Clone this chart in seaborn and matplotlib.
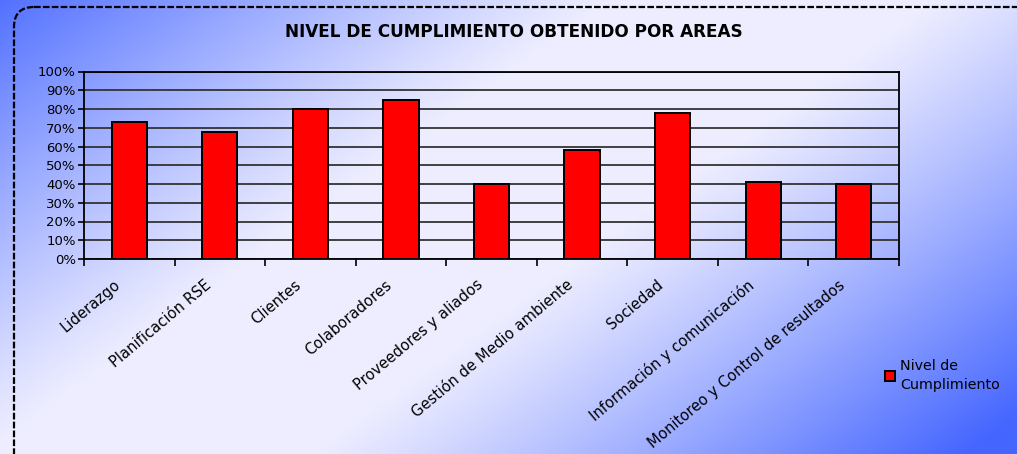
import numpy as np
import pandas as pd
import matplotlib
matplotlib.use("Agg")
import matplotlib.pyplot as plt
import matplotlib.transforms as mtransforms
import seaborn as sns
from matplotlib.patches import FancyBboxPatch
from matplotlib.ticker import PercentFormatter, FixedLocator

areas = ["Liderazgo", "Planificación RSE", "Clientes", "Colaboradores",
         "Proveedores y aliados", "Gestión de Medio ambiente", "Sociedad",
         "Información y comunicación", "Monitoreo y Control de resultados"]
cumplimiento = [73, 68, 80, 85, 40, 58, 78, 41, 40]
serie = "Nivel de\nCumplimiento"
titulo = "NIVEL DE CUMPLIMIENTO OBTENIDO POR AREAS"

df = pd.DataFrame({"Area": areas, "Valor": cumplimiento})

sns.set_style("white")
plt.rcParams['font.family'] = ['DejaVu Sans']
for k in ['text.color', 'axes.labelcolor', 'xtick.color', 'ytick.color']:
    plt.rcParams[k] = 'black'

FW, FH = 1017, 454
fig = plt.figure(figsize=(FW / 100, FH / 100), dpi=100)

# background gradient (pixel coordinates)
bg = fig.add_axes([0, 0, 1, 1], zorder=-10)
W, H = 500, 220
xx, yy = np.meshgrid(np.linspace(0, 1, W), np.linspace(0, 1, H))
u = 0.62 * xx + 0.38 * yy  # yy measured from top
d = np.clip((np.abs(u - 0.47) - 0.10) / 0.40, 0, 1) ** 1.1
blue = np.array([0.27, 0.40, 1.0])
white = np.array([0.93, 0.93, 1.0])
img = white[None, None, :] * (1 - d[..., None]) + blue[None, None, :] * d[..., None]
bg.imshow(img, extent=[0, FW, FH, 0], aspect='auto')
bg.set_xlim(0, FW); bg.set_ylim(FH, 0)
bg.axis('off')
border = FancyBboxPatch((14, 7), 1200, 500,
                        boxstyle="round,pad=0,rounding_size=20",
                        fill=False, edgecolor='black',
                        linewidth=1.6, linestyle=(0, (3, 1)))
bg.add_patch(border)

ax = fig.add_axes([84 / FW, 1 - 259 / FH, (899 - 84) / FW, (259 - 71.5) / FH])
ax.set_facecolor('none')
sns.barplot(data=df, x="Area", y="Valor", color="#ff0000", saturation=1,
            edgecolor="black", linewidth=1.4, width=0.39, ax=ax, label=serie,
            zorder=3)
ax.set_ylim(0, 100)
ax.set_xlim(-0.5, len(areas) - 0.5)
ax.set_yticks(np.arange(0, 101, 10))
ax.yaxis.set_major_formatter(PercentFormatter(decimals=0))
ax.grid(axis='y', color='#333333', linewidth=1.3, zorder=0)
ax.set_axisbelow(True)
ax.set_xlabel(""); ax.set_ylabel("")
for s in ax.spines.values():
    s.set_color('black'); s.set_linewidth(1.3)
ax.tick_params(axis='y', which='major', direction='out', length=4, width=1.2,
               left=True, labelsize=9.5, pad=2)
ax.set_xticks(range(len(areas)))
ax.set_xticklabels(areas, rotation=40, ha='right', va='center',
                   rotation_mode='anchor', fontsize=10.6)
ax.tick_params(axis='x', which='major', length=0, pad=0)
offset = mtransforms.ScaledTranslation(-11 / 100, -24 / 100, fig.dpi_scale_trans)
for lab in ax.get_xticklabels():
    lab.set_transform(lab.get_transform() + offset)
ax.xaxis.set_minor_locator(FixedLocator(np.arange(-0.5, len(areas), 1.0)))
ax.tick_params(axis='x', which='minor', direction='out', length=5, width=1.2,
               bottom=True)

fig.text(514 / FW, 1 - 32 / FH, titulo, ha='center', va='center',
         fontsize=12.2, fontweight='bold')

leg = ax.legend(loc='upper left', bbox_to_anchor=(885 / FW, 1 - 359 / FH),
                bbox_transform=fig.transFigure, frameon=False, fontsize=10.3,
                handlelength=0.7, handleheight=0.7, handletextpad=0.35,
                borderpad=0, borderaxespad=0)
for t in leg.get_texts():
    t.set_linespacing(1.45)

fig.savefig("out.png", dpi=100)
